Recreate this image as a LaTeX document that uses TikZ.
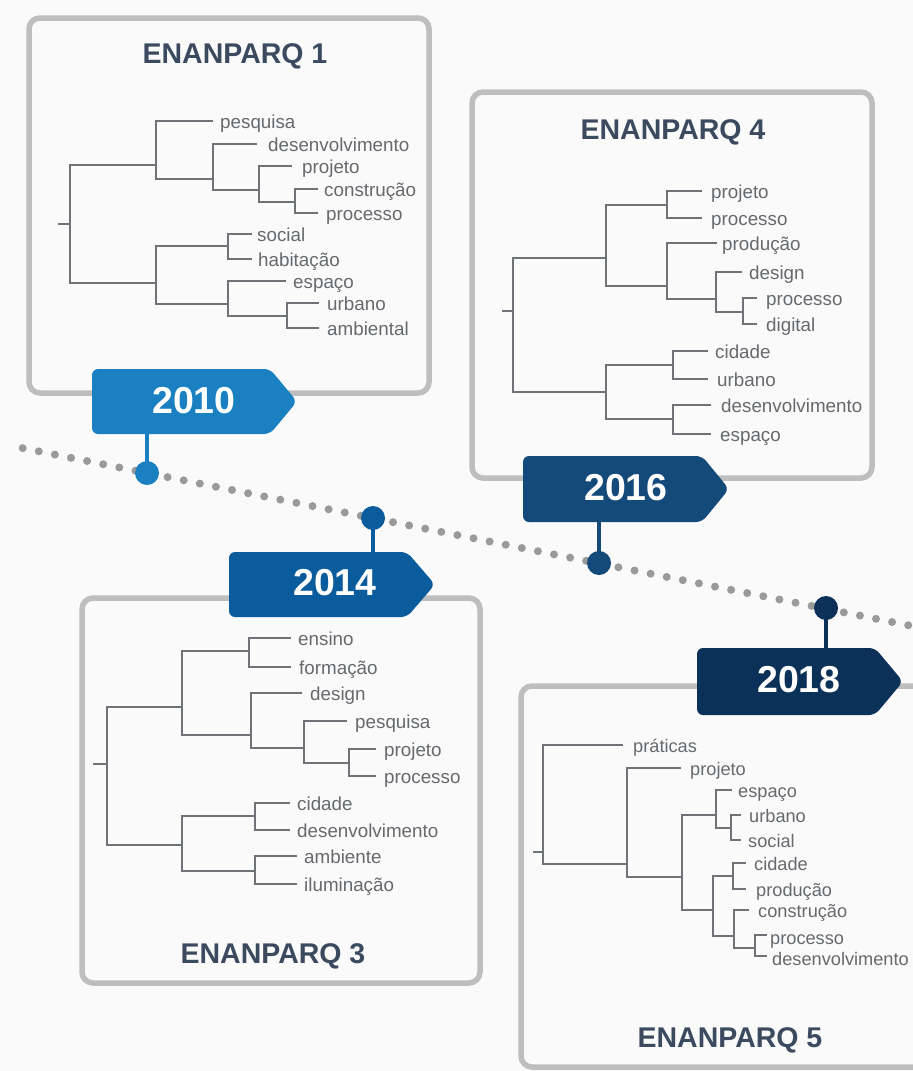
\documentclass[tikz,border=0pt]{standalone}
\usepackage{fontspec}
\setmainfont{Liberation Sans}
\definecolor{cA}{HTML}{1B80C2}
\definecolor{cB}{HTML}{0A5C9C}
\definecolor{cC}{HTML}{134A7A}
\definecolor{cD}{HTML}{0B3158}
\definecolor{bgray}{HTML}{BEBEBE}
\definecolor{dgray}{HTML}{6F7277}
\definecolor{lgray}{HTML}{66696D}
\definecolor{tblue}{HTML}{3B4A5E}
\definecolor{dotgray}{HTML}{9A9A9A}
\definecolor{bg}{HTML}{FAFAFA}
\newcommand\brk[5]{\draw[dline] (#4,#2) -| (#1,#3) -- (#5,#3);}
\newcommand\yeartag[6]{%
  \fill[#6, rounded corners=6pt] (#5,{(#2+#3)/2}) -- (#4,#2) -- (#1,#2) -- (#1,#3) -- (#4,#3) -- cycle;}
\begin{document}
\begin{tikzpicture}[x=1pt,y=-1pt,
  dline/.style={draw=dgray, line width=2.2pt, line join=miter},
  lab/.style={anchor=base west, inner sep=0pt, text=lgray, font=\fontsize{18.8}{20}\selectfont},
  lab5/.style={lab, font=\fontsize{18.2}{20}\selectfont},
  ttl/.style={anchor=base, inner sep=0pt, text=tblue, font=\fontsize{28.5}{30}\selectfont\bfseries},
  panel/.style={draw=bgray, line width=5.5pt, fill=bg, rounded corners=11pt},
  yr/.style={anchor=base, inner sep=0pt, text=white, font=\fontsize{37.5}{38}\selectfont\bfseries},
  tdot/.style={circle, inner sep=0pt, minimum size=24pt},
  stem/.style={line width=4.5pt},
]
\fill[bg] (0,0) rectangle (913,1071);
\useasboundingbox (0,0) rectangle (913,1071);
\clip (0,0) rectangle (913,1071);

% panels
\draw[panel] (29,18) rectangle (429,393);
\draw[panel] (472,92) rectangle (872,478);
\draw[panel] (82,598) rectangle (480,983);
\draw[panel] (521,686) rectangle (960,1067);

% titles
\node[ttl] (t1) at (235,63) {ENANPARQ 1};
\node[ttl] (t4) at (673,139) {ENANPARQ 4};
\node[ttl] (t3) at (273,963) {ENANPARQ 3};
\node[ttl] (t5) at (730,1047) {ENANPARQ 5};

% dendrogram 1
\draw[dline] (58,224) -- (70,224);
\brk{70}{165}{283}{156}{156}
\brk{156}{121}{179}{213}{213}
\brk{213}{144}{190}{257}{259}
\brk{259}{166}{202}{292}{295}
\brk{295}{189}{213}{318}{318}
\brk{156}{246}{304}{228}{228}
\brk{228}{234}{259}{252}{252}
\brk{228}{281}{316}{286}{287}
\brk{287}{303}{328}{319}{319}
\node[lab] (a1) at (220,128) {pesquisa};
\node[lab] (a2) at (268,151) {desenvolvimento};
\node[lab] (a3) at (302,173) {projeto};
\node[lab] (a4) at (324,196) {construção};
\node[lab] (a5) at (326,220) {processo};
\node[lab] (a6) at (257,241) {social};
\node[lab] (a7) at (258,266) {habitação};
\node[lab] (a8) at (293,288) {espaço};
\node[lab] (a9) at (327,310) {urbano};
\node[lab] (a10) at (327,335) {ambiental};

% dendrogram 4
\draw[dline] (502,311) -- (513,311);
\brk{513}{258}{392}{606}{606}
\brk{606}{205}{286}{667}{667}
\brk{667}{191}{218}{702}{702}
\brk{667}{243}{299}{717}{716}
\brk{716}{272}{312}{742}{743}
\brk{743}{298}{324}{757}{757}
\brk{606}{365}{419}{673}{673}
\brk{673}{351}{379}{708}{708}
\brk{673}{405}{434}{711}{711}
\node[lab] (b1) at (711,198) {projeto};
\node[lab] (b2) at (711,225) {processo};
\node[lab] (b3) at (722,250) {produção};
\node[lab] (b4) at (749,279) {design};
\node[lab] (b5) at (766,305) {processo};
\node[lab] (b6) at (766,331) {digital};
\node[lab] (b7) at (715,358) {cidade};
\node[lab] (b8) at (717,386) {urbano};
\node[lab] (b9) at (721,412) {desenvolvimento};
\node[lab] (b10) at (720,441) {espaço};

% dendrogram 3
\draw[dline] (93,764) -- (107,764);
\brk{107}{707}{845}{182}{182}
\brk{182}{651}{735}{249}{251}
\brk{249}{638}{667}{291}{291}
\brk{251}{693}{748}{302}{304}
\brk{304}{721}{763}{347}{349}
\brk{349}{749}{776}{376}{376}
\brk{182}{816}{871}{255}{255}
\brk{255}{803}{830}{290}{290}
\brk{255}{856}{884}{297}{297}
\node[lab] (c1) at (298,645) {ensino};
\node[lab] (c2) at (299,674) {formação};
\node[lab] (c3) at (310,700) {design};
\node[lab] (c4) at (355,728) {pesquisa};
\node[lab] (c5) at (384,756) {projeto};
\node[lab] (c6) at (384,783) {processo};
\node[lab] (c7) at (297,810) {cidade};
\node[lab] (c8) at (297,837) {desenvolvimento};
\node[lab] (c9) at (304,863) {ambiente};
\node[lab] (c10) at (304,891) {iluminação};

% dendrogram 5
\draw[dline] (533,852) -- (543,852);
\brk{543}{745}{864}{623}{627}
\brk{627}{768}{877}{681}{682}
\brk{682}{815}{910}{716}{713}
\brk{716}{790}{828}{732}{731}
\brk{731}{815}{840}{741}{741}
\brk{713}{876}{936}{733}{734}
\brk{733}{863}{889}{746}{746}
\brk{734}{910}{948}{749}{755}
\brk{755}{935}{956}{767}{767}
\node[lab5] (e1) at (633,752) {práticas};
\node[lab5] (e2) at (690,775) {projeto};
\node[lab5] (e3) at (738,797) {espaço};
\node[lab5] (e4) at (749,822) {urbano};
\node[lab5] (e5) at (748,847) {social};
\node[lab5] (e6) at (754,870) {cidade};
\node[lab5] (e7) at (756,896) {produção};
\node[lab5] (e8) at (758,917) {construção};
\node[lab5] (e9) at (770,944) {processo};
\node[lab5] (e10) at (772,965) {desenvolvimento};

% timeline
\foreach \i in {0,...,55} {
  \fill[dotgray] ({22.7+16.1*\i}, {473+0.2*(22.7+16.1*\i-147)}) circle[radius=4pt];
}

% tags
\yeartag{92}{369}{434}{270}{297}{cA}
\yeartag{229}{552}{617}{407}{435}{cB}
\yeartag{523}{456}{522}{702}{729}{cC}
\yeartag{697}{648}{715}{875}{903}{cD}
\node[yr] (y2010) at (194,413) {2010};
\node[yr] (y2014) at (335,595) {2014};
\node[yr] (y2016) at (626,500) {2016};
\node[yr] (y2018) at (799,692) {2018};

% dots and stems
\coordinate (s2010) at (147,433);
\coordinate (s2014) at (373,553);
\coordinate (s2016) at (599,521);
\coordinate (s2018) at (826,649);
\node[tdot, fill=cA] (d2010) at (147,473) {};
\node[tdot, fill=cB] (d2014) at (373,518) {};
\node[tdot, fill=cC] (d2016) at (599,563) {};
\node[tdot, fill=cD] (d2018) at (826,608) {};
\draw[stem, cA] (d2010.center) -- (s2010);
\draw[stem, cB] (d2014.center) -- (s2014);
\draw[stem, cC] (d2016.center) -- (s2016);
\draw[stem, cD] (d2018.center) -- (s2018);
\end{tikzpicture}
\end{document}
